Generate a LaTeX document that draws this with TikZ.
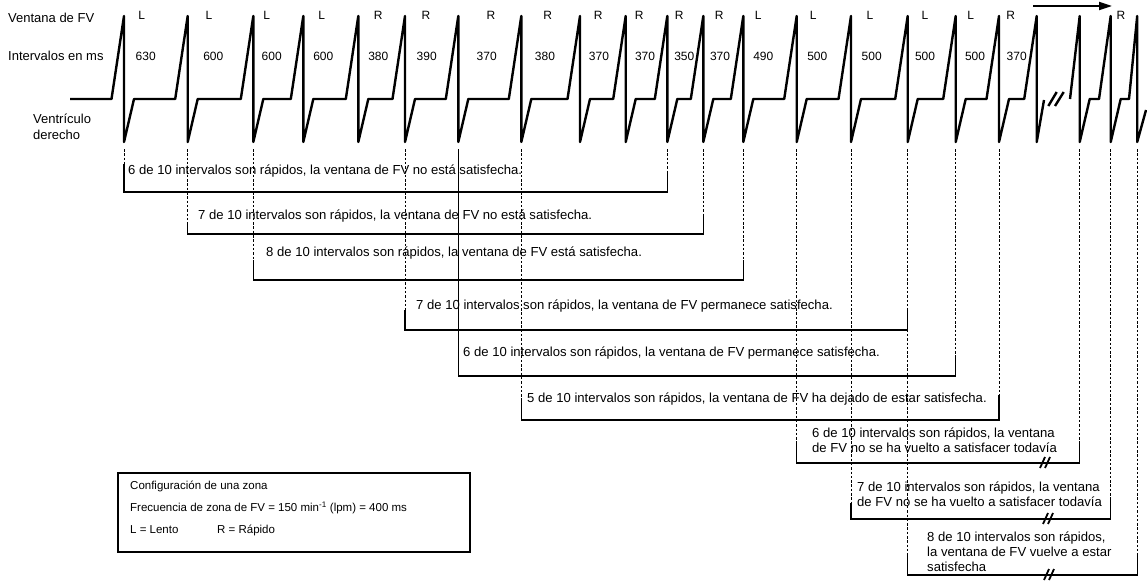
\documentclass[tikz,border=0pt]{standalone}
\usepackage{fontspec}
\setmainfont{Liberation Sans}
\usetikzlibrary{arrows.meta}
\tikzset{
  ecg/.style={line width=2.4pt, line join=round},
  brk/.style={line width=1.2pt},
  guide/.style={line width=1pt, dash pattern=on 2.5pt off 1.8pt},
  lbl/.style={font=\fontsize{13}{16}\selectfont, inner sep=0pt},
  tag/.style={font=\fontsize{12}{14}\selectfont, inner sep=0pt},
  note/.style={font=\fontsize{11.5}{13}\selectfont, inner sep=0pt, anchor=west},
  msg/.style={font=\fontsize{13.1}{15}\selectfont, inner sep=0pt, anchor=west, align=left},
  cut/.style={line width=1.8pt},
}
\begin{document}
\begin{tikzpicture}[x=1pt,y=-1pt]
    \useasboundingbox (0,0) rectangle (1147,586);
    \def\pk{{124,187.7,253.3,303.3,358.3,405,458.3,521.3,580,625.7,667.3,703.3,743.3,796.7,851,907.7,955.7,999,1036.7,1079.7,1110.7,1137.2}}

    \foreach \i in {0,1,...,21}
        \coordinate (b\i) at ({\pk[\i]},149);

    \node[lbl, anchor=west] (ventana) at (8,18) {Ventana de FV};
    \node[lbl, anchor=west] (intervalos) at (8,56) {Intervalos en ms};
    \node[lbl, anchor=west, align=left] (ventriculo) at (33,127) {Ventrículo\\derecho};

    % trazado del ventriculo
    \draw[ecg] (70,99) foreach \i in {0,1,...,17} { -- ({\pk[\i]-12.5},99) -- ({\pk[\i]},16) -- ({\pk[\i]},142) -- ({\pk[\i]+10},99) }
        -- (1024.2,99) -- (1036.7,16) -- (1036.7,142) -- (1044,100);
    \draw[ecg] (1048.3,106) -- (1056.7,92) (1055,106) -- (1063.7,92);
    \draw[ecg] (1070,99) -- (1079.7,16) -- (1079.7,142) -- (1089.7,99) -- (1099,99) -- (1110.7,16) -- (1110.7,142)
        -- (1120.7,99) -- (1129,99) -- (1137.2,16) -- (1137.2,142) -- (1146,110);

    \foreach \x/\t [count=\n] in {141.7/L,209/L,266.7/L,321.7/L,378.3/R,426/R,491/R,547.7/R,598.3/R,639.3/R,679.3/R,719.3/R,758.3/L,813.3/L,870/L,925/L,970.7/L,1010.7/R,1121/R}
        \node[tag] (fv\n) at (\x,15) {\t};
    \foreach \x/\t [count=\n] in {145.7/630,213.3/600,271.7/600,323.3/600,378.3/380,426.7/390,486.7/370,545/380,599/370,645/370,684.3/350,720/370,763.3/490,817.3/500,871.7/500,925/500,975/500,1016.7/370}
        \node[tag] (ms\n) at (\x,56) {\t};

    \coordinate (flechaA) at (1033,6);
    \coordinate (flechaB) at (1112,6);
    \draw[line width=2pt, -{Triangle[length=13pt,width=8pt]}] (flechaA) -- (flechaB);

    % lineas guia
    \foreach \i/\e in {0/164,1/222,2/260,5/310,7/400,10/172,11/215,12/260,13/443,14/503,15/555,16/355,17/395,19/443,20/498,21/555}
        \draw[guide] (b\i) -- (b\i |- 0,\e);
    \draw[line width=0.9pt] (b6) -- (b6 |- 0,355);

    % corchetes
    \foreach \l/\r/\a/\c/\y in {0/10/164/172/192, 1/11/222/215/234, 2/12/260/260/280, 5/15/310/309/330, 6/16/355/355/376, 7/17/400/395/420, 13/19/443/443/463, 14/20/503/498/519, 15/21/555/555/575}
        \draw[brk] (b\l |- 0,\a) -- (b\l |- 0,\y) -- (b\r |- 0,\y) -- (b\r |- 0,\c);
    \foreach \x/\y in {1040/463, 1043/519, 1044/575}
        \draw[cut] (\x,\y+5) -- (\x+5,\y-6) (\x+5,\y+5) -- (\x+10,\y-6);

    \node[msg] (m1) at (128,171) {6 de 10 intervalos son rápidos, la ventana de FV no está satisfecha.};
    \node[msg] (m2) at (198,216) {7 de 10 intervalos son rápidos, la ventana de FV no está satisfecha.};
    \node[msg] (m3) at (266,253) {8 de 10 intervalos son rápidos, la ventana de FV está satisfecha.};
    \node[msg] (m4) at (416,306) {7 de 10 intervalos son rápidos, la ventana de FV permanece satisfecha.};
    \node[msg] (m5) at (463,353) {6 de 10 intervalos son rápidos, la ventana de FV permanece satisfecha.};
    \node[msg] (m6) at (527,399) {5 de 10 intervalos son rápidos, la ventana de FV ha dejado de estar satisfecha.};
    \node[msg] (m7) at (812,440.5) {6 de 10 intervalos son rápidos, la ventana\\de FV no se ha vuelto a satisfacer todavía};
    \node[msg] (m8) at (857,494) {7 de 10 intervalos son rápidos, la ventana\\de FV no se ha vuelto a satisfacer todavía};
    \node[msg] (m9) at (927,552) {8 de 10 intervalos son rápidos,\\la ventana de FV vuelve a estar\\satisfecha};

    % configuracion
    \draw[brk] (118,473) rectangle (470,552);
    \node[note] (conf) at (130,486) {Configuración de una zona};
    \node[note] (frec) at (130,508) {Frecuencia de zona de FV = 150 min\textsuperscript{-1} (lpm) = 400 ms};
    \node[note] (lento) at (130,530) {L = Lento};
    \node[note] (rapido) at (217,530) {R = Rápido};
\end{tikzpicture}
\end{document}
